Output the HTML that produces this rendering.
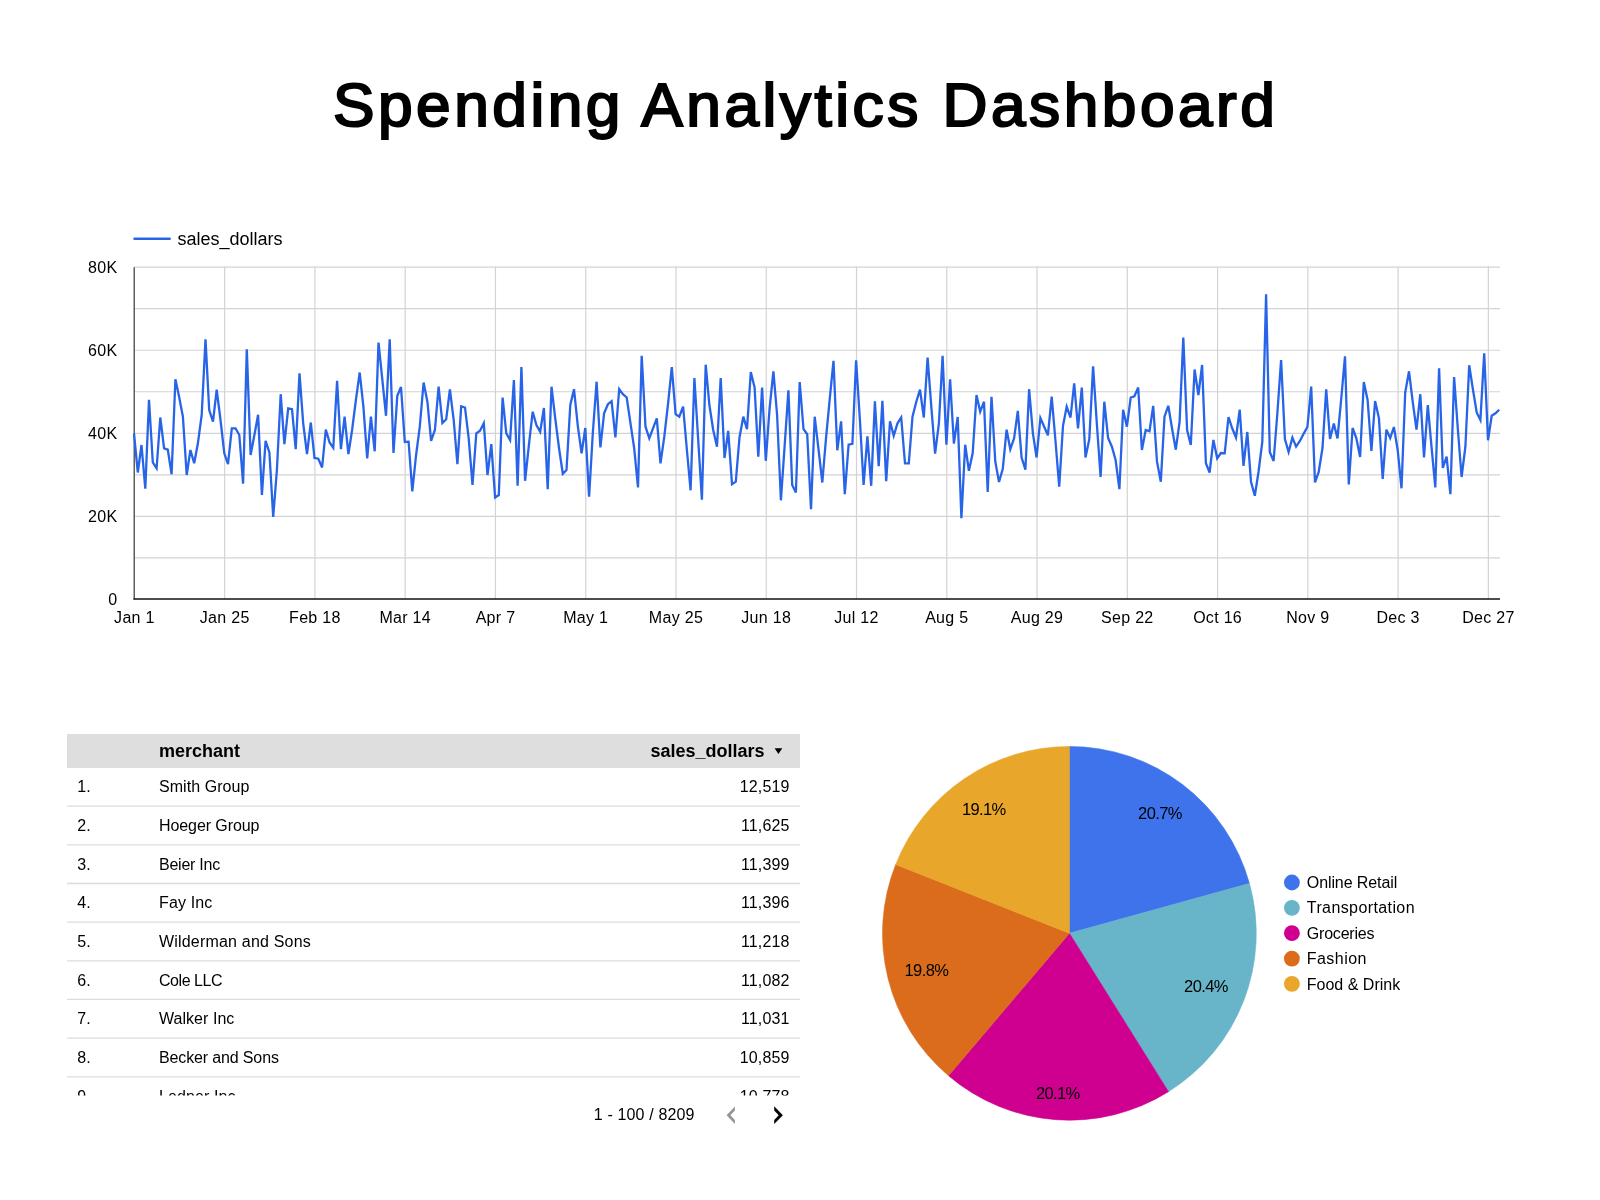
<!DOCTYPE html>
<html><head><meta charset="utf-8"><style>
html,body{margin:0;padding:0;background:#fff;}
body{width:1600px;height:1200px;position:relative;overflow:hidden;font-family:"Liberation Sans", sans-serif;}
#title{position:absolute;left:0;top:0;width:1600px;text-align:center;font-weight:normal;-webkit-text-stroke:2.1px #000;font-size:60.5px;letter-spacing:3.4px;line-height:1;color:#000;white-space:nowrap;}
#title span{position:absolute;left:333px;top:74.5px;transform:scaleX(1.0285);transform-origin:0 0;}
svg{position:absolute;left:0;top:0;will-change:transform;}
#title{will-change:transform;}
svg text{font-family:"Liberation Sans", sans-serif;fill:#000;}
.ax{font-size:16px;letter-spacing:0.3px;fill:#000 !important;}
.lg{font-size:18px;fill:#000 !important;}
.pl{font-size:16.5px;letter-spacing:-0.6px;fill:#000 !important;}
.pg{font-size:16px;letter-spacing:-0.05px;fill:#000 !important;}
.th{font-size:18px;font-weight:bold;fill:#000 !important;}
.td{font-size:16px;letter-spacing:0.15px;fill:#000 !important;}
</style></head><body>
<div id="title"><span>Spending Analytics Dashboard</span></div>
<svg width="1600" height="1200" viewBox="0 0 1600 1200">
<defs><clipPath id="tclip"><rect x="60" y="768" width="750" height="327.5"/></clipPath></defs>
<line x1="134.0" y1="557.88" x2="1500" y2="557.88" stroke="#d3d3d3" stroke-width="1.2"/>
<line x1="134.0" y1="516.35" x2="1500" y2="516.35" stroke="#d3d3d3" stroke-width="1.2"/>
<line x1="134.0" y1="474.82" x2="1500" y2="474.82" stroke="#d3d3d3" stroke-width="1.2"/>
<line x1="134.0" y1="433.30" x2="1500" y2="433.30" stroke="#d3d3d3" stroke-width="1.2"/>
<line x1="134.0" y1="391.77" x2="1500" y2="391.77" stroke="#d3d3d3" stroke-width="1.2"/>
<line x1="134.0" y1="350.25" x2="1500" y2="350.25" stroke="#d3d3d3" stroke-width="1.2"/>
<line x1="134.0" y1="308.72" x2="1500" y2="308.72" stroke="#d3d3d3" stroke-width="1.2"/>
<line x1="134.0" y1="267.20" x2="1500" y2="267.20" stroke="#d3d3d3" stroke-width="1.2"/>
<line x1="224.66" y1="266.6" x2="224.66" y2="599.0" stroke="#d3d3d3" stroke-width="1.2"/>
<line x1="314.93" y1="266.6" x2="314.93" y2="599.0" stroke="#d3d3d3" stroke-width="1.2"/>
<line x1="405.19" y1="266.6" x2="405.19" y2="599.0" stroke="#d3d3d3" stroke-width="1.2"/>
<line x1="495.46" y1="266.6" x2="495.46" y2="599.0" stroke="#d3d3d3" stroke-width="1.2"/>
<line x1="585.72" y1="266.6" x2="585.72" y2="599.0" stroke="#d3d3d3" stroke-width="1.2"/>
<line x1="675.98" y1="266.6" x2="675.98" y2="599.0" stroke="#d3d3d3" stroke-width="1.2"/>
<line x1="766.25" y1="266.6" x2="766.25" y2="599.0" stroke="#d3d3d3" stroke-width="1.2"/>
<line x1="856.51" y1="266.6" x2="856.51" y2="599.0" stroke="#d3d3d3" stroke-width="1.2"/>
<line x1="946.78" y1="266.6" x2="946.78" y2="599.0" stroke="#d3d3d3" stroke-width="1.2"/>
<line x1="1037.04" y1="266.6" x2="1037.04" y2="599.0" stroke="#d3d3d3" stroke-width="1.2"/>
<line x1="1127.30" y1="266.6" x2="1127.30" y2="599.0" stroke="#d3d3d3" stroke-width="1.2"/>
<line x1="1217.57" y1="266.6" x2="1217.57" y2="599.0" stroke="#d3d3d3" stroke-width="1.2"/>
<line x1="1307.83" y1="266.6" x2="1307.83" y2="599.0" stroke="#d3d3d3" stroke-width="1.2"/>
<line x1="1398.10" y1="266.6" x2="1398.10" y2="599.0" stroke="#d3d3d3" stroke-width="1.2"/>
<line x1="1488.36" y1="266.6" x2="1488.36" y2="599.0" stroke="#d3d3d3" stroke-width="1.2"/>
<line x1="134.25" y1="267.2" x2="134.25" y2="599.5" stroke="#5f5f5f" stroke-width="1.5"/>
<line x1="133.5" y1="599" x2="1500" y2="599" stroke="#111" stroke-width="1.6"/>
<text x="117.4" y="605.0" text-anchor="end" class="ax">0</text>
<text x="117.4" y="522.0" text-anchor="end" class="ax">20K</text>
<text x="117.4" y="438.9" text-anchor="end" class="ax">40K</text>
<text x="117.4" y="355.9" text-anchor="end" class="ax">60K</text>
<text x="117.4" y="272.8" text-anchor="end" class="ax">80K</text>
<text x="134.4" y="622.8" text-anchor="middle" class="ax">Jan 1</text>
<text x="224.7" y="622.8" text-anchor="middle" class="ax">Jan 25</text>
<text x="314.9" y="622.8" text-anchor="middle" class="ax">Feb 18</text>
<text x="405.2" y="622.8" text-anchor="middle" class="ax">Mar 14</text>
<text x="495.5" y="622.8" text-anchor="middle" class="ax">Apr 7</text>
<text x="585.7" y="622.8" text-anchor="middle" class="ax">May 1</text>
<text x="676.0" y="622.8" text-anchor="middle" class="ax">May 25</text>
<text x="766.2" y="622.8" text-anchor="middle" class="ax">Jun 18</text>
<text x="856.5" y="622.8" text-anchor="middle" class="ax">Jul 12</text>
<text x="946.8" y="622.8" text-anchor="middle" class="ax">Aug 5</text>
<text x="1037.0" y="622.8" text-anchor="middle" class="ax">Aug 29</text>
<text x="1127.3" y="622.8" text-anchor="middle" class="ax">Sep 22</text>
<text x="1217.6" y="622.8" text-anchor="middle" class="ax">Oct 16</text>
<text x="1307.8" y="622.8" text-anchor="middle" class="ax">Nov 9</text>
<text x="1398.1" y="622.8" text-anchor="middle" class="ax">Dec 3</text>
<text x="1488.4" y="622.8" text-anchor="middle" class="ax">Dec 27</text>
<polyline points="134.0,433.3 137.8,472.5 141.5,445.0 145.3,488.7 149.0,399.7 152.8,462.5 156.6,468.3 160.3,417.5 164.1,448.3 167.8,449.7 171.6,474.2 175.4,379.2 179.1,396.7 182.9,416.7 186.7,475.0 190.4,450.0 194.2,463.3 197.9,443.3 201.7,415.0 205.5,339.2 209.2,410.0 213.0,421.7 216.7,389.7 220.5,420.0 224.3,453.3 228.0,464.2 231.8,428.3 235.5,428.3 239.3,435.0 243.1,483.7 246.8,349.2 250.6,455.0 254.4,435.0 258.1,414.7 261.9,495.0 265.6,440.8 269.4,452.5 273.2,517.0 276.9,470.0 280.7,394.2 284.4,444.2 288.2,408.3 292.0,409.2 295.7,449.2 299.5,373.3 303.2,423.3 307.0,454.2 310.8,422.5 314.5,458.0 318.3,458.7 322.1,467.5 325.8,429.7 329.6,442.5 333.3,447.8 337.1,380.8 340.9,449.2 344.6,416.7 348.4,454.2 352.1,430.0 355.9,400.0 359.7,372.5 363.4,406.7 367.2,458.3 370.9,416.7 374.7,451.3 378.5,342.5 382.2,378.3 386.0,415.8 389.7,339.2 393.5,453.0 397.3,395.8 401.0,387.0 404.8,442.0 408.6,441.7 412.3,491.3 416.1,455.0 419.8,426.7 423.6,382.5 427.4,401.7 431.1,440.8 434.9,430.0 438.6,386.7 442.4,423.0 446.2,419.2 449.9,389.5 453.7,420.0 457.4,464.2 461.2,406.3 465.0,407.5 468.7,438.3 472.5,485.0 476.3,433.3 480.0,430.8 483.8,423.3 487.5,475.0 491.3,444.2 495.1,497.5 498.8,495.0 502.6,397.5 506.3,433.3 510.1,440.0 513.9,380.0 517.6,485.8 521.4,367.0 525.1,480.8 528.9,445.0 532.7,411.7 536.4,425.0 540.2,431.7 543.9,408.0 547.7,489.2 551.5,386.7 555.2,418.0 559.0,448.0 562.8,473.7 566.5,470.0 570.3,405.0 574.0,389.2 577.8,425.8 581.6,453.3 585.3,428.0 589.1,496.7 592.8,433.3 596.6,381.7 600.4,447.5 604.1,413.3 607.9,404.2 611.6,401.3 615.4,437.5 619.2,389.2 622.9,394.2 626.7,397.5 630.5,423.3 634.2,448.3 638.0,487.5 641.7,355.8 645.5,426.7 649.3,438.3 653.0,428.3 656.8,418.3 660.5,463.3 664.3,436.7 668.1,403.3 671.8,367.0 675.6,414.2 679.3,416.7 683.1,406.7 686.9,450.0 690.6,490.3 694.4,378.0 698.1,438.3 701.9,499.7 705.7,364.7 709.4,405.0 713.2,430.0 717.0,446.7 720.7,378.0 724.5,458.0 728.2,430.8 732.0,484.2 735.8,481.7 739.5,437.5 743.3,416.7 747.0,429.2 750.8,372.0 754.6,387.5 758.3,456.7 762.1,387.5 765.8,460.8 769.6,408.3 773.4,371.3 777.1,415.0 780.9,500.3 784.7,445.0 788.4,390.3 792.2,485.0 795.9,492.5 799.7,382.0 803.5,429.2 807.2,434.2 811.0,509.2 814.7,416.7 818.5,449.2 822.3,482.5 826.0,438.3 829.8,398.3 833.5,360.8 837.3,450.3 841.1,421.3 844.8,494.2 848.6,444.7 852.4,443.8 856.1,360.3 859.9,420.0 863.6,485.0 867.4,436.3 871.2,485.8 874.9,401.3 878.7,466.3 882.4,400.8 886.2,481.3 890.0,421.3 893.7,435.8 897.5,423.3 901.2,417.5 905.0,463.3 908.8,463.3 912.5,416.7 916.3,401.7 920.0,389.7 923.8,417.5 927.6,357.5 931.3,406.7 935.1,453.7 938.9,423.3 942.6,355.8 946.4,444.7 950.1,379.2 953.9,443.7 957.7,417.0 961.4,518.3 965.2,444.7 968.9,470.8 972.7,453.0 976.5,395.0 980.2,411.7 984.0,401.7 987.7,492.0 991.5,396.7 995.3,461.7 999.0,482.0 1002.8,468.7 1006.6,429.7 1010.3,449.2 1014.1,438.3 1017.8,410.8 1021.6,457.5 1025.4,469.7 1029.1,389.2 1032.9,433.3 1036.6,457.5 1040.4,418.0 1044.2,426.7 1047.9,435.3 1051.7,396.7 1055.4,440.0 1059.2,486.7 1063.0,425.8 1066.7,406.7 1070.5,417.5 1074.2,383.3 1078.0,428.3 1081.8,387.5 1085.5,457.5 1089.3,439.2 1093.1,366.3 1096.8,423.3 1100.6,477.0 1104.3,401.7 1108.1,438.0 1111.9,446.7 1115.6,460.0 1119.4,489.2 1123.1,409.7 1126.9,426.7 1130.7,397.5 1134.4,396.3 1138.2,387.5 1141.9,450.0 1145.7,430.0 1149.5,431.3 1153.2,405.8 1157.0,461.7 1160.8,481.7 1164.5,416.7 1168.3,405.8 1172.0,428.3 1175.8,449.7 1179.6,421.7 1183.3,337.5 1187.1,430.0 1190.8,445.0 1194.6,369.5 1198.4,395.0 1202.1,365.0 1205.9,463.3 1209.6,472.5 1213.4,440.0 1217.2,458.3 1220.9,453.0 1224.7,453.3 1228.5,417.0 1232.2,428.3 1236.0,437.5 1239.7,409.7 1243.5,465.8 1247.3,432.0 1251.0,481.7 1254.8,495.7 1258.5,472.0 1262.3,442.0 1266.1,294.4 1269.8,452.0 1273.6,461.0 1277.3,414.0 1281.1,360.0 1284.9,439.0 1288.6,452.0 1292.4,437.6 1296.1,446.6 1299.9,441.0 1303.7,433.6 1307.4,427.0 1311.2,386.6 1315.0,482.4 1318.7,472.0 1322.5,448.0 1326.2,389.4 1330.0,439.0 1333.8,423.6 1337.5,438.4 1341.3,398.0 1345.0,356.4 1348.8,484.4 1352.6,428.0 1356.3,438.0 1360.1,457.0 1363.8,382.0 1367.6,400.0 1371.4,451.0 1375.1,401.0 1378.9,418.0 1382.7,479.0 1386.4,429.6 1390.2,438.0 1393.9,427.0 1397.7,450.0 1401.5,488.3 1405.2,392.5 1409.0,371.3 1412.7,401.7 1416.5,429.7 1420.3,394.2 1424.0,457.5 1427.8,405.0 1431.5,446.7 1435.3,487.5 1439.1,368.3 1442.8,468.0 1446.6,456.7 1450.4,494.2 1454.1,377.0 1457.9,430.0 1461.6,477.0 1465.4,446.7 1469.2,365.3 1472.9,389.2 1476.7,412.5 1480.4,420.0 1484.2,353.3 1488.0,440.3 1491.7,415.8 1495.5,413.3 1499.2,409.7" fill="none" stroke="#2864e8" stroke-width="2.3" stroke-linejoin="miter" stroke-miterlimit="4"/>
<line x1="134.5" y1="238.75" x2="169.7" y2="238.75" stroke="#2864e8" stroke-width="2.5" stroke-linecap="round"/>
<text x="177.5" y="245.3" class="lg">sales_dollars</text>
<path d="M1069.40,933.30 L1069.40,746.50 A186.50,186.50 0 0 1 1249.42,883.44 Z" fill="#3f73eb" stroke="#3f73eb" stroke-width="0.6" stroke-linejoin="round"/>
<path d="M1069.40,933.30 L1249.42,883.44 A186.50,186.50 0 0 1 1168.50,1091.65 Z" fill="#68b4c9" stroke="#68b4c9" stroke-width="0.6" stroke-linejoin="round"/>
<path d="M1069.40,933.30 L1168.50,1091.65 A186.50,186.50 0 0 1 948.53,1075.72 Z" fill="#cf008f" stroke="#cf008f" stroke-width="0.6" stroke-linejoin="round"/>
<path d="M1069.40,933.30 L948.53,1075.72 A186.50,186.50 0 0 1 895.72,864.53 Z" fill="#da6c1c" stroke="#da6c1c" stroke-width="0.6" stroke-linejoin="round"/>
<path d="M1069.40,933.30 L895.72,864.53 A186.50,186.50 0 0 1 1069.40,746.50 Z" fill="#e8a62a" stroke="#e8a62a" stroke-width="0.6" stroke-linejoin="round"/>
<text x="1160.0" y="819.3" text-anchor="middle" class="pl">20.7%</text>
<text x="1206.0" y="992.2" text-anchor="middle" class="pl">20.4%</text>
<text x="1057.8" y="1098.6" text-anchor="middle" class="pl">20.1%</text>
<text x="926.4" y="975.6" text-anchor="middle" class="pl">19.8%</text>
<text x="983.8" y="814.7" text-anchor="middle" class="pl">19.1%</text>
<circle cx="1291.9" cy="882.50" r="7.9" fill="#3f73eb"/>
<text x="1306.8" y="888.10" class="pg" style="letter-spacing:-0.10px">Online Retail</text>
<circle cx="1291.9" cy="907.85" r="7.9" fill="#68b4c9"/>
<text x="1306.8" y="913.45" class="pg" style="letter-spacing:0.40px">Transportation</text>
<circle cx="1291.9" cy="933.20" r="7.9" fill="#cf008f"/>
<text x="1306.8" y="938.80" class="pg" style="letter-spacing:-0.20px">Groceries</text>
<circle cx="1291.9" cy="958.55" r="7.9" fill="#da6c1c"/>
<text x="1306.8" y="964.15" class="pg" style="letter-spacing:0.45px">Fashion</text>
<circle cx="1291.9" cy="983.90" r="7.9" fill="#e8a62a"/>
<text x="1306.8" y="989.50" class="pg" style="letter-spacing:0.00px">Food &amp; Drink</text>
<rect x="67" y="734" width="733" height="34" fill="#dedede"/>
<text x="159" y="757.3" class="th">merchant</text>
<text x="764.5" y="757.3" text-anchor="end" class="th">sales_dollars</text>
<path d="M774.6,748.2 L782.3,748.2 L778.45,753.9 Z" fill="#000"/>
<g clip-path="url(#tclip)">
<text x="77.3" y="792.30" class="td">1.</text>
<text x="159" y="792.30" class="td" style="letter-spacing:0.05px">Smith Group</text>
<text x="789.6" y="792.30" text-anchor="end" class="td">12,519</text>
<line x1="67" y1="806.16" x2="800" y2="806.16" stroke="#dcdcdc" stroke-width="1.3"/>
<text x="77.3" y="830.96" class="td">2.</text>
<text x="159" y="830.96" class="td" style="letter-spacing:-0.08px">Hoeger Group</text>
<text x="789.6" y="830.96" text-anchor="end" class="td">11,625</text>
<line x1="67" y1="844.82" x2="800" y2="844.82" stroke="#dcdcdc" stroke-width="1.3"/>
<text x="77.3" y="869.62" class="td">3.</text>
<text x="159" y="869.62" class="td" style="letter-spacing:-0.25px">Beier Inc</text>
<text x="789.6" y="869.62" text-anchor="end" class="td">11,399</text>
<line x1="67" y1="883.48" x2="800" y2="883.48" stroke="#dcdcdc" stroke-width="1.3"/>
<text x="77.3" y="908.28" class="td">4.</text>
<text x="159" y="908.28" class="td" style="letter-spacing:0.15px">Fay Inc</text>
<text x="789.6" y="908.28" text-anchor="end" class="td">11,396</text>
<line x1="67" y1="922.14" x2="800" y2="922.14" stroke="#dcdcdc" stroke-width="1.3"/>
<text x="77.3" y="946.94" class="td">5.</text>
<text x="159" y="946.94" class="td" style="letter-spacing:0.19px">Wilderman and Sons</text>
<text x="789.6" y="946.94" text-anchor="end" class="td">11,218</text>
<line x1="67" y1="960.80" x2="800" y2="960.80" stroke="#dcdcdc" stroke-width="1.3"/>
<text x="77.3" y="985.60" class="td">6.</text>
<text x="159" y="985.60" class="td" style="letter-spacing:-0.45px">Cole LLC</text>
<text x="789.6" y="985.60" text-anchor="end" class="td">11,082</text>
<line x1="67" y1="999.46" x2="800" y2="999.46" stroke="#dcdcdc" stroke-width="1.3"/>
<text x="77.3" y="1024.26" class="td">7.</text>
<text x="159" y="1024.26" class="td" style="letter-spacing:0.04px">Walker Inc</text>
<text x="789.6" y="1024.26" text-anchor="end" class="td">11,031</text>
<line x1="67" y1="1038.12" x2="800" y2="1038.12" stroke="#dcdcdc" stroke-width="1.3"/>
<text x="77.3" y="1062.92" class="td">8.</text>
<text x="159" y="1062.92" class="td" style="letter-spacing:-0.14px">Becker and Sons</text>
<text x="789.6" y="1062.92" text-anchor="end" class="td">10,859</text>
<line x1="67" y1="1076.78" x2="800" y2="1076.78" stroke="#dcdcdc" stroke-width="1.3"/>
<text x="77.3" y="1101.58" class="td">9.</text>
<text x="159" y="1101.58" class="td" style="letter-spacing:0.10px">Ledner Inc</text>
<text x="789.6" y="1101.58" text-anchor="end" class="td">10,778</text>
<line x1="67" y1="1115.44" x2="800" y2="1115.44" stroke="#dcdcdc" stroke-width="1.3"/>
</g>
<text x="593.8" y="1119.8" class="td">1 - 100 / 8209</text>
<path d="M734.9,1106.4 L734.9,1110.5 L730.4,1115.3 L734.9,1120.1 L734.9,1124.1 L726.6,1115.3 Z" fill="#959595"/>
<path d="M774.2,1106.2 L782.9,1115.3 L774.2,1124.1 L774.2,1120.1 L778.7,1115.3 L774.2,1110.5 Z" fill="#050505"/>
</svg>
</body></html>
